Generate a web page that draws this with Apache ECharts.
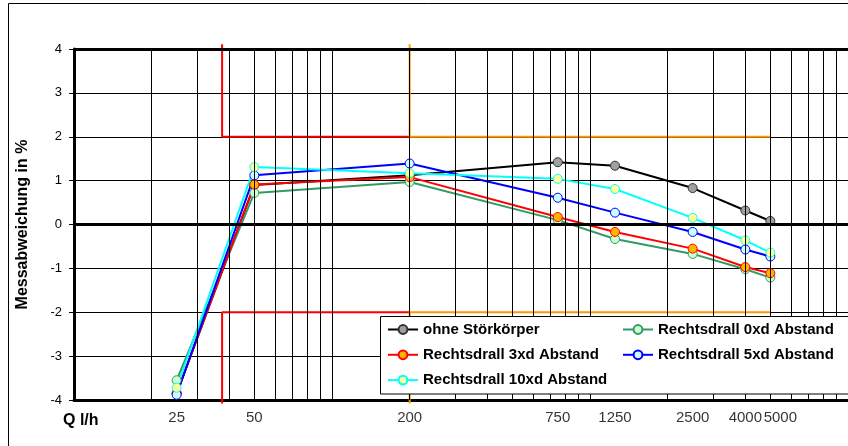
<!DOCTYPE html>
<html>
<head>
<meta charset="utf-8">
<script src="https://cdn.jsdelivr.net/npm/echarts@6/dist/echarts.min.js"></script>
<style>
  html, body { margin: 0; padding: 0; background: #fff; }
  #chart { width: 848px; height: 446px; }
</style>
</head>
<body>
<div id="chart"></div>
<script>
// Durchfluss-Stützstellen (l/h)
const flowRates = [25, 50, 200, 750, 1250, 2500, 4000, 5000];

// Messabweichung in % je Einbausituation
const ohneStoerkoerper = [-3.85, 0.90, 1.12, 1.42, 1.34, 0.83, 0.32, 0.08];
const rechtsdrall0xd   = [-3.55, 0.72, 0.97, 0.10, -0.33, -0.67, -1.02, -1.21];
const rechtsdrall3xd   = [-3.85, 0.91, 1.08, 0.17, -0.17, -0.55, -0.97, -1.11];
const rechtsdrall5xd   = [-3.88, 1.12, 1.39, 0.61, 0.27, -0.17, -0.57, -0.73];
const rechtsdrall10xd  = [-3.72, 1.31, 1.17, 1.04, 0.81, 0.15, -0.36, -0.64];

// Beschriftete Durchflusswerte an der Q-Achse
const qTickLabels = [25, 50, 200, 750, 1250, 2500, 4000, 5000];

// Logarithmische Gitterlinien (Zwischenteilung je Dekade)
const qGridLines = [20, 30, 40, 50, 60, 70, 80, 90, 100,
                    200, 300, 400, 500, 600, 700, 800, 900, 1000,
                    2000, 3000, 4000, 5000, 6000, 7000, 8000, 9000];

// Fehlergrenzen: unterer Bereich (rot) und oberer Bereich (orange)
const grenzeRotOben     = [[37.5, 4.11], [37.5, 2], [200, 2]];
const grenzeRotUnten    = [[37.5, -4.08], [37.5, -2], [200, -2]];
const grenzeOrangeOben  = [[200, 4.11], [200, 2], [5000, 2]];
const grenzeOrangeUnten = [[200, -4.08], [200, -2], [5000, -2]];

const FONT = "'Liberation Sans', Arial, Helvetica, sans-serif";

function messreihe(name, values, lineColor, fillColor, borderColor) {
  return {
    type: 'line',
    name: name,
    data: flowRates.map((q, i) => [q, values[i]]),
    symbol: 'circle',
    symbolSize: 9,
    showAllSymbol: true,
    lineStyle: { color: lineColor, width: 2 },
    itemStyle: { color: fillColor, borderColor: borderColor, borderWidth: 1 },
    emphasis: { disabled: true },
    clip: false,
    z: 4
  };
}

function grenzlinie(points, color) {
  return {
    type: 'line',
    data: points,
    symbol: 'none',
    lineStyle: { color: color, width: 2 },
    silent: true,
    clip: false,
    emphasis: { disabled: true },
    z: 3
  };
}

const chart = echarts.init(document.getElementById('chart'), null, { renderer: 'canvas' });

const option = {
  animation: false,
  backgroundColor: '#fff',
  textStyle: { fontFamily: FONT },
  grid: { left: 74, top: 49, width: 777, height: 351, containLabel: false },
  xAxis: {
    type: 'log',
    logBase: 10,
    min: 10,
    max: 10000,
    axisLine: { onZero: false, lineStyle: { color: '#000', width: 3 } },
    axisTick: { show: false },
    axisLabel: { show: false },
    splitLine: { show: false }
  },
  yAxis: {
    type: 'value',
    min: -4,
    max: 4,
    interval: 1,
    name: 'Messabweichung in %',
    nameLocation: 'middle',
    nameRotate: 90,
    nameGap: 43,
    nameTextStyle: { fontFamily: FONT, fontWeight: 'bold', fontSize: 16, color: '#000' },
    axisLine: { show: true, lineStyle: { color: '#000', width: 3 } },
    axisTick: { show: true, length: 5, lineStyle: { color: '#000', width: 1 } },
    axisLabel: { margin: 12, color: '#000', fontSize: 13, fontFamily: FONT },
    splitLine: { show: true, lineStyle: { color: '#000', width: 1 } }
  },
  legend: [
    {
      data: ['ohne Störkörper', 'Rechtsdrall 3xd Abstand', 'Rechtsdrall 10xd Abstand'],
      orient: 'vertical',
      left: 387,
      top: 322,
      padding: 0,
      itemGap: 10.3,
      itemWidth: 30,
      itemHeight: 11,
      selectedMode: false,
      textStyle: { fontFamily: FONT, fontWeight: 'bold', fontSize: 15, color: '#000' },
      z: 10
    },
    {
      data: ['Rechtsdrall 0xd Abstand', 'Rechtsdrall 5xd Abstand'],
      orient: 'vertical',
      left: 622,
      top: 322,
      padding: 0,
      itemGap: 10.3,
      itemWidth: 30,
      itemHeight: 11,
      selectedMode: false,
      textStyle: { fontFamily: FONT, fontWeight: 'bold', fontSize: 15, color: '#000' },
      z: 10
    }
  ],
  graphic: [
    {
      type: 'rect',
      silent: true,
      z: -10,
      shape: { x: 8.5, y: 3.5, width: 900, height: 500 },
      style: { fill: 'none', stroke: '#000', lineWidth: 1 }
    },
    {
      type: 'rect',
      silent: true,
      z: 8,
      shape: { x: 380.5, y: 316.5, width: 470, height: 77.5 },
      style: { fill: '#fff', stroke: '#000', lineWidth: 1 }
    },
    {
      type: 'text',
      silent: true,
      left: 63,
      top: 413,
      style: { text: 'Q l/h', font: 'bold 16px ' + FONT, fill: '#000' }
    }
  ],
  series: [
    // Gitterlinien der logarithmischen Q-Achse
    {
      type: 'line',
      data: [],
      silent: true,
      z: 1,
      markLine: {
        silent: true,
        animation: false,
        symbol: ['none', 'none'],
        label: { show: false },
        lineStyle: { color: '#000', width: 1, type: 'solid' },
        emphasis: { disabled: true },
        data: qGridLines.map(v => ({ xAxis: v }))
      }
    },
    // kräftige Linien bei 0 % und +4 %
    {
      type: 'line',
      data: [],
      silent: true,
      z: 2,
      markLine: {
        silent: true,
        animation: false,
        symbol: ['none', 'none'],
        label: { show: false },
        lineStyle: { color: '#000', width: 3, type: 'solid' },
        emphasis: { disabled: true },
        data: [{ yAxis: 0 }, { yAxis: 4 }]
      }
    },
    grenzlinie(grenzeRotOben, '#ff0000'),
    grenzlinie(grenzeRotUnten, '#ff0000'),
    grenzlinie(grenzeOrangeOben, '#ff9900'),
    grenzlinie(grenzeOrangeUnten, '#ff9900'),
    messreihe('ohne Störkörper', ohneStoerkoerper, '#000000', '#a0a0a0', '#333333'),
    messreihe('Rechtsdrall 0xd Abstand', rechtsdrall0xd, '#339966', '#ccffcc', '#339966'),
    messreihe('Rechtsdrall 3xd Abstand', rechtsdrall3xd, '#ff0000', '#ffb400', '#ff0000'),
    messreihe('Rechtsdrall 5xd Abstand', rechtsdrall5xd, '#0000ff', '#ccffff', '#0000ff'),
    messreihe('Rechtsdrall 10xd Abstand', rechtsdrall10xd, '#00ffff', '#ffff99', '#00ffff'),
    // Beschriftung der Q-Achse an den Messpunkten
    {
      type: 'scatter',
      silent: true,
      clip: false,
      symbolSize: 1,
      itemStyle: { color: 'rgba(0,0,0,0)' },
      z: 6,
      label: {
        show: true,
        position: 'bottom',
        distance: 10,
        color: '#000',
        fontSize: 15,
        fontFamily: FONT,
        formatter: p => String(p.value[0])
      },
      data: qTickLabels.map((q, i) => {
        const item = { value: [q, -4] };
        // letzte Beschriftung etwas nach rechts, damit sie nicht mit der vorigen kollidiert
        if (i === qTickLabels.length - 1) item.label = { offset: [10, 0] };
        return item;
      })
    }
  ]
};

chart.setOption(option);
</script>
</body>
</html>
